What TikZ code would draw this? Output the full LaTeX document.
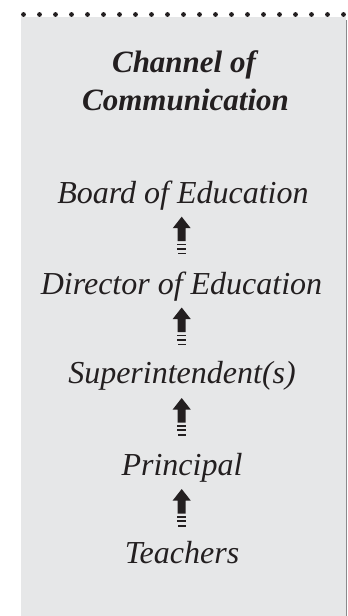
\documentclass[tikz,border=0pt]{standalone}
\usepackage{fontspec}
\setmainfont{Liberation Serif}
\definecolor{panelgray}{HTML}{E6E7E8}
\definecolor{edgegray}{HTML}{8A8A8C}
\definecolor{inkblack}{HTML}{231F20}
\tikzset{
  item/.style={anchor=base, inner sep=0pt, text=inkblack,
    font=\itshape\fontsize{32}{38}\selectfont},
  titletext/.style={anchor=base, inner sep=0pt, text=inkblack,
    font=\bfseries\itshape\fontsize{31}{37}\selectfont},
  pics/uparrow/.style={code={
    \fill[inkblack] (0,0) -- (9,11.5) -- (4,11.5) -- (4,24.5) -- (-4,24.5) -- (-4,11.5) -- (-9,11.5) -- cycle;
    \fill[inkblack] (-4.5,27) rectangle (4.5,28.6);
    \fill[inkblack] (-4.5,31.3) rectangle (4.5,33);
    \fill[inkblack] (-4.2,36.3) rectangle (4.2,37.6);
  }}
}
\begin{document}
\begin{tikzpicture}[x=1pt,y=-1pt]
\useasboundingbox (0,0) rectangle (348,616);
\fill[white] (0,0) rectangle (348,616);
\fill[panelgray] (21,17) rectangle (346,616);
\draw[edgegray, line width=1.3pt] (346.7,20) -- (346.7,616);
\foreach \k in {0,...,20}
  \fill[inkblack] (23.5+16*\k,14.5) circle[radius=2.4pt];
\node[titletext] (t1) at (184,72) {Channel of};
\node[titletext] (t2) at (185.5,110) {Communication};
\node[item] (n1) at (183,203) {Board of Education};
\node[item] (n2) at (181.5,294) {Director of Education};
\node[item] (n3) at (182,383) {Superintendent(s)};
\node[item] (n4) at (182,475) {Principal};
\node[item] (n5) at (182,563) {Teachers};
\coordinate (a1) at (181.7,216.7);
\coordinate (a2) at (181.7,307.5);
\coordinate (a3) at (181.7,398);
\coordinate (a4) at (181.7,489);
\foreach \a in {a1,a2,a3,a4}
  \pic at (\a) {uparrow};
\end{tikzpicture}
\end{document}
